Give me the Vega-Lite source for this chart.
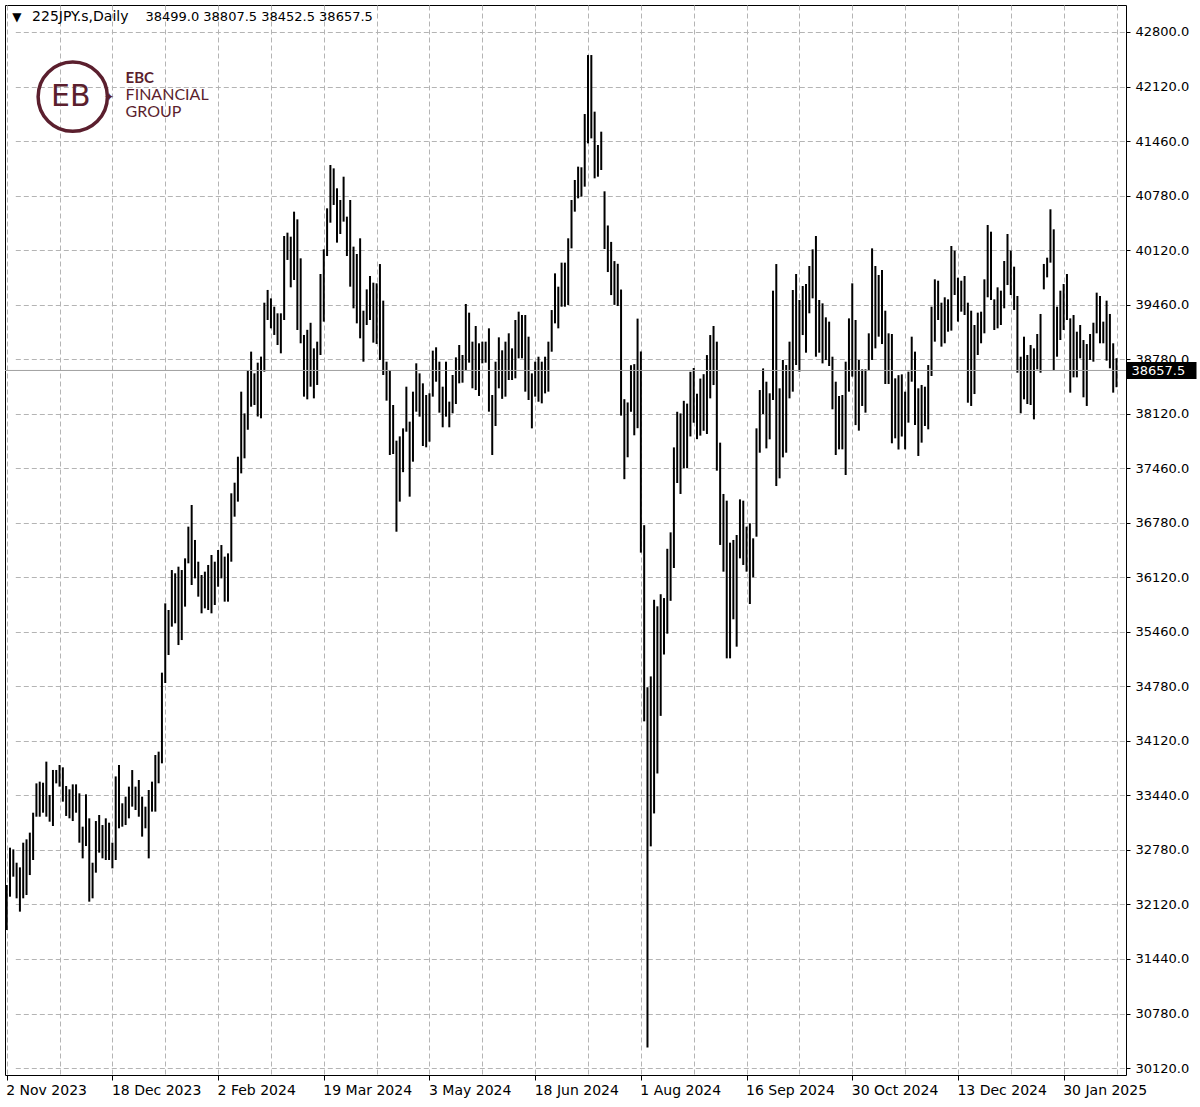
{
"$schema":"https://vega.github.io/schema/vega-lite/v6.json",
"width":1121,"height":1070,
"autosize":{"type":"none"},
"padding":{"left":5,"top":5,"right":74,"bottom":32},
"background":"white",
"config":{"view":{"stroke":"black","strokeWidth":1},"font":"DejaVu Sans","axis":{"labelFont":"DejaVu Sans"}},
"datasets":{
"last":[{"sym":"225JPY.s,Daily","o":38499.0,"h":38807.5,"l":38452.5,"c":38657.5}],
"bars":[
{"d":"2023-11-02","h":32360,"l":31809},{"d":"2023-11-03","h":32817,"l":32217},{"d":"2023-11-06","h":32796,"l":32462},{"d":"2023-11-07","h":32633,"l":32197},{"d":"2023-11-08","h":32576,"l":32034},{"d":"2023-11-09","h":32878,"l":32197},{"d":"2023-11-10","h":32919,"l":32238},{"d":"2023-11-13","h":33001,"l":32482},{"d":"2023-11-14","h":33245,"l":32666},{"d":"2023-11-15","h":33604,"l":33196},{"d":"2023-11-16","h":33625,"l":33196},{"d":"2023-11-17","h":33612,"l":33245},{"d":"2023-11-20","h":33870,"l":33196},{"d":"2023-11-21","h":33462,"l":33135},{"d":"2023-11-22","h":33768,"l":33082},{"d":"2023-11-23","h":33768,"l":33604},{"d":"2023-11-24","h":33829,"l":33564},{"d":"2023-11-27","h":33800,"l":33380},{"d":"2023-11-28","h":33572,"l":33205},{"d":"2023-11-29","h":33531,"l":33176},{"d":"2023-11-30","h":33592,"l":33143},{"d":"2023-12-01","h":33592,"l":33245},{"d":"2023-12-04","h":33482,"l":32878},{"d":"2023-12-05","h":33074,"l":32686},{"d":"2023-12-06","h":33470,"l":32837},{"d":"2023-12-07","h":33176,"l":32156},{"d":"2023-12-08","h":32633,"l":32197},{"d":"2023-12-11","h":33143,"l":32511},{"d":"2023-12-12","h":33217,"l":32756},{"d":"2023-12-13","h":33094,"l":32686},{"d":"2023-12-14","h":33176,"l":32666},{"d":"2023-12-15","h":33123,"l":32666},{"d":"2023-12-18","h":32878,"l":32564},{"d":"2023-12-19","h":33689,"l":32666},{"d":"2023-12-20","h":33829,"l":33054},{"d":"2023-12-21","h":33360,"l":33074},{"d":"2023-12-22","h":33441,"l":33094},{"d":"2023-12-26","h":33564,"l":33176},{"d":"2023-12-27","h":33767,"l":33319},{"d":"2023-12-28","h":33564,"l":33278},{"d":"2023-12-29","h":33645,"l":33196},
{"d":"2024-01-02","h":33441,"l":32952},{"d":"2024-01-03","h":33319,"l":33054},{"d":"2024-01-04","h":33523,"l":32686},{"d":"2024-01-05","h":33625,"l":33258},{"d":"2024-01-08","h":33951,"l":33258},{"d":"2024-01-09","h":33992,"l":33605},{"d":"2024-01-10","h":34959,"l":33849},{"d":"2024-01-11","h":35807,"l":34832},{"d":"2024-01-12","h":35726,"l":35175},{"d":"2024-01-15","h":36215,"l":35522},{"d":"2024-01-16","h":36175,"l":35563},{"d":"2024-01-17","h":36256,"l":35297},{"d":"2024-01-18","h":36215,"l":35358},{"d":"2024-01-19","h":36358,"l":35767},{"d":"2024-01-22","h":36746,"l":36297},{"d":"2024-01-23","h":37011,"l":36032},{"d":"2024-01-24","h":36583,"l":36113},{"d":"2024-01-25","h":36317,"l":35889},{"d":"2024-01-26","h":36154,"l":35685},{"d":"2024-01-29","h":36195,"l":35746},{"d":"2024-01-30","h":36277,"l":35726},{"d":"2024-01-31","h":36399,"l":35685},
{"d":"2024-02-01","h":36317,"l":35787},{"d":"2024-02-02","h":36460,"l":36011},{"d":"2024-02-05","h":36521,"l":36113},{"d":"2024-02-06","h":36379,"l":35828},{"d":"2024-02-07","h":36419,"l":35828},{"d":"2024-02-08","h":37154,"l":36317},{"d":"2024-02-09","h":37284,"l":36868},{"d":"2024-02-12","h":37602,"l":37052},{"d":"2024-02-13","h":38398,"l":37398},{"d":"2024-02-14","h":38132,"l":37582},{"d":"2024-02-15","h":38663,"l":37932},{"d":"2024-02-16","h":38888,"l":38214},{"d":"2024-02-19","h":38622,"l":38235},{"d":"2024-02-20","h":38753,"l":38094},{"d":"2024-02-21","h":38827,"l":38072},{"d":"2024-02-22","h":39487,"l":38643},{"d":"2024-02-23","h":39643,"l":39275},{"d":"2024-02-26","h":39540,"l":39173},{"d":"2024-02-27","h":39438,"l":39092},{"d":"2024-02-28","h":39357,"l":38969},{"d":"2024-02-29","h":39357,"l":38867},
{"d":"2024-03-01","h":40303,"l":39275},{"d":"2024-03-04","h":40344,"l":40010},{"d":"2024-03-05","h":40295,"l":39675},{"d":"2024-03-06","h":40601,"l":39765},{"d":"2024-03-07","h":40507,"l":39153},{"d":"2024-03-08","h":40030,"l":38990},{"d":"2024-03-11","h":39092,"l":38337},{"d":"2024-03-12","h":39155,"l":38304},{"d":"2024-03-13","h":39241,"l":38459},{"d":"2024-03-14","h":38928,"l":38316},{"d":"2024-03-15","h":39010,"l":38480},{"d":"2024-03-18","h":39838,"l":38847},{"d":"2024-03-19","h":40140,"l":39255},{"d":"2024-03-20","h":40642,"l":40058},{"d":"2024-03-21","h":41172,"l":40466},{"d":"2024-03-22","h":41131,"l":40683},{"d":"2024-03-25","h":40887,"l":40222},{"d":"2024-03-26","h":40744,"l":40328},{"d":"2024-03-27","h":41029,"l":40479},{"d":"2024-03-28","h":40540,"l":40058},
{"d":"2024-04-01","h":40744,"l":39683},{"d":"2024-04-02","h":40173,"l":39418},{"d":"2024-04-03","h":40083,"l":39234},{"d":"2024-04-04","h":40275,"l":39051},{"d":"2024-04-05","h":39389,"l":38765},{"d":"2024-04-08","h":39650,"l":39214},{"d":"2024-04-09","h":39814,"l":39275},{"d":"2024-04-10","h":39732,"l":38998},{"d":"2024-04-11","h":39724,"l":38981},{"d":"2024-04-12","h":39960,"l":38786},{"d":"2024-04-15","h":39512,"l":38602},{"d":"2024-04-16","h":38765,"l":38288},{"d":"2024-04-17","h":38663,"l":37623},{"d":"2024-04-18","h":38235,"l":37635},{"d":"2024-04-19","h":37798,"l":36684},{"d":"2024-04-22","h":37851,"l":37052},{"d":"2024-04-23","h":37949,"l":37413},{"d":"2024-04-24","h":38459,"l":37908},{"d":"2024-04-25","h":38031,"l":37113},{"d":"2024-04-26","h":38398,"l":37541},{"d":"2024-04-29","h":38745,"l":38153},{"d":"2024-04-30","h":38622,"l":38092},
{"d":"2024-05-01","h":38500,"l":37733},{"d":"2024-05-02","h":38357,"l":37717},{"d":"2024-05-03","h":38378,"l":37786},{"d":"2024-05-06","h":38900,"l":38337},{"d":"2024-05-07","h":38941,"l":38520},{"d":"2024-05-08","h":38765,"l":38141},{"d":"2024-05-09","h":38459,"l":37962},{"d":"2024-05-10","h":38765,"l":38092},{"d":"2024-05-13","h":38276,"l":37962},{"d":"2024-05-14","h":38602,"l":38133},{"d":"2024-05-15","h":38818,"l":38247},{"d":"2024-05-16","h":38969,"l":38500},{"d":"2024-05-17","h":38847,"l":38508},{"d":"2024-05-20","h":39471,"l":38663},{"d":"2024-05-21","h":39365,"l":38753},{"d":"2024-05-22","h":39010,"l":38439},{"d":"2024-05-23","h":39202,"l":38418},{"d":"2024-05-24","h":38990,"l":38345},{"d":"2024-05-27","h":39010,"l":38745},{"d":"2024-05-28","h":39010,"l":38753},{"d":"2024-05-29","h":39173,"l":38153},{"d":"2024-05-30","h":38357,"l":37623},{"d":"2024-05-31","h":38765,"l":37978},
{"d":"2024-06-03","h":39063,"l":38439},{"d":"2024-06-04","h":38904,"l":38310},{"d":"2024-06-05","h":39010,"l":38337},{"d":"2024-06-06","h":39112,"l":38541},{"d":"2024-06-07","h":38928,"l":38541},{"d":"2024-06-10","h":39275,"l":38561},{"d":"2024-06-11","h":39377,"l":38806},{"d":"2024-06-12","h":39336,"l":38806},{"d":"2024-06-13","h":39336,"l":38398},{"d":"2024-06-14","h":39071,"l":38296},{"d":"2024-06-17","h":38622,"l":37949},{"d":"2024-06-18","h":38765,"l":38337},{"d":"2024-06-19","h":38826,"l":38275},{"d":"2024-06-20","h":38765,"l":38255},{"d":"2024-06-21","h":38826,"l":38377},{"d":"2024-06-24","h":39010,"l":38398},{"d":"2024-06-25","h":39397,"l":38887},{"d":"2024-06-26","h":39846,"l":39234},{"d":"2024-06-27","h":39683,"l":39173},{"d":"2024-06-28","h":39977,"l":39438},
{"d":"2024-07-01","h":39977,"l":39438},{"d":"2024-07-02","h":40275,"l":39459},{"d":"2024-07-03","h":40744,"l":40152},{"d":"2024-07-04","h":40989,"l":40601},{"d":"2024-07-05","h":41152,"l":40764},{"d":"2024-07-08","h":41144,"l":40785},{"d":"2024-07-09","h":41796,"l":40907},{"d":"2024-07-10","h":42518,"l":41437},{"d":"2024-07-11","h":42518,"l":41498},{"d":"2024-07-12","h":41825,"l":41009},{"d":"2024-07-15","h":41417,"l":41029},{"d":"2024-07-16","h":41580,"l":41111},{"d":"2024-07-17","h":40850,"l":40144},{"d":"2024-07-18","h":40432,"l":39862},{"d":"2024-07-19","h":40231,"l":39580},{"d":"2024-07-22","h":39996,"l":39460},{"d":"2024-07-23","h":39963,"l":39446},{"d":"2024-07-24","h":39648,"l":38105},{"d":"2024-07-25","h":38306,"l":37327},{"d":"2024-07-26","h":38266,"l":37595},{"d":"2024-07-29","h":38722,"l":38152},{"d":"2024-07-30","h":38735,"l":37864},{"d":"2024-07-31","h":39292,"l":37951},
{"d":"2024-08-01","h":38890,"l":36428},{"d":"2024-08-02","h":36764,"l":34363},{"d":"2024-08-05","h":34779,"l":30372},{"d":"2024-08-06","h":34913,"l":32833},{"d":"2024-08-07","h":35851,"l":33236},{"d":"2024-08-08","h":35771,"l":33725},{"d":"2024-08-09","h":35919,"l":34430},{"d":"2024-08-12","h":35872,"l":35181},{"d":"2024-08-13","h":36475,"l":35436},{"d":"2024-08-14","h":36676,"l":35838},{"d":"2024-08-15","h":37716,"l":36240},{"d":"2024-08-16","h":38152,"l":37280},{"d":"2024-08-19","h":38132,"l":37146},{"d":"2024-08-20","h":38286,"l":37461},{"d":"2024-08-21","h":38252,"l":37461},{"d":"2024-08-22","h":38641,"l":37850},{"d":"2024-08-23","h":38688,"l":38018},{"d":"2024-08-26","h":38373,"l":37817},{"d":"2024-08-27","h":38558,"l":37860},{"d":"2024-08-28","h":38612,"l":37919},{"d":"2024-08-29","h":38846,"l":37880},{"d":"2024-08-30","h":39091,"l":38316},
{"d":"2024-09-02","h":39202,"l":38479},{"d":"2024-09-03","h":39010,"l":37431},{"d":"2024-09-04","h":37774,"l":36522},{"d":"2024-09-05","h":37146,"l":36195},{"d":"2024-09-06","h":37064,"l":35134},{"d":"2024-09-09","h":36550,"l":35134},{"d":"2024-09-10","h":36583,"l":35612},{"d":"2024-09-11","h":36644,"l":35277},{"d":"2024-09-12","h":37080,"l":36358},{"d":"2024-09-13","h":37064,"l":36277},{"d":"2024-09-16","h":36746,"l":36195},{"d":"2024-09-17","h":36787,"l":35799},{"d":"2024-09-18","h":36603,"l":36126},{"d":"2024-09-19","h":37949,"l":36623},{"d":"2024-09-20","h":38418,"l":37651},{"d":"2024-09-23","h":38683,"l":38125},{"d":"2024-09-24","h":38520,"l":37704},{"d":"2024-09-25","h":38378,"l":37815},{"d":"2024-09-26","h":39634,"l":38296},{"d":"2024-09-27","h":39960,"l":37243},{"d":"2024-09-30","h":38439,"l":37337},
{"d":"2024-10-01","h":38786,"l":37594},{"d":"2024-10-02","h":38724,"l":37651},{"d":"2024-10-03","h":39010,"l":38316},{"d":"2024-10-04","h":39642,"l":38398},{"d":"2024-10-07","h":39838,"l":38724},{"d":"2024-10-08","h":39520,"l":38643},{"d":"2024-10-09","h":39691,"l":39091},{"d":"2024-10-10","h":39716,"l":38875},{"d":"2024-10-11","h":39936,"l":39357},{"d":"2024-10-14","h":40140,"l":39540},{"d":"2024-10-15","h":40303,"l":38826},{"d":"2024-10-16","h":39520,"l":38875},{"d":"2024-10-17","h":39479,"l":38744},{"d":"2024-10-18","h":39308,"l":38785},{"d":"2024-10-21","h":39255,"l":38712},{"d":"2024-10-22","h":38826,"l":38182},{"d":"2024-10-23","h":38520,"l":37623},{"d":"2024-10-24","h":38345,"l":37692},{"d":"2024-10-25","h":38357,"l":37692},{"d":"2024-10-28","h":38765,"l":37378},{"d":"2024-10-29","h":39295,"l":38398},{"d":"2024-10-30","h":39724,"l":38582},{"d":"2024-10-31","h":39275,"l":37989},
{"d":"2024-11-01","h":38786,"l":37921},{"d":"2024-11-04","h":38671,"l":38223},{"d":"2024-11-05","h":38671,"l":38141},{"d":"2024-11-06","h":39112,"l":38663},{"d":"2024-11-07","h":40152,"l":38786},{"d":"2024-11-08","h":39936,"l":38928},{"d":"2024-11-11","h":39826,"l":39071},{"d":"2024-11-12","h":39887,"l":38981},{"d":"2024-11-13","h":39389,"l":38492},{"d":"2024-11-14","h":39112,"l":38492},{"d":"2024-11-15","h":39104,"l":37766},{"d":"2024-11-18","h":38561,"l":37827},{"d":"2024-11-19","h":38600,"l":37690},{"d":"2024-11-20","h":38610,"l":37849},{"d":"2024-11-21","h":38398,"l":37692},{"d":"2024-11-22","h":38643,"l":38019},{"d":"2024-11-25","h":39071,"l":38520},{"d":"2024-11-26","h":38888,"l":37990},{"d":"2024-11-27","h":38439,"l":37611},{"d":"2024-11-28","h":38480,"l":37774},{"d":"2024-11-29","h":38459,"l":37978},
{"d":"2024-12-02","h":38724,"l":37937},{"d":"2024-12-03","h":39438,"l":38590},{"d":"2024-12-04","h":39773,"l":39010},{"d":"2024-12-05","h":39756,"l":39275},{"d":"2024-12-06","h":39487,"l":38949},{"d":"2024-12-09","h":39553,"l":38990},{"d":"2024-12-10","h":39528,"l":39132},{"d":"2024-12-11","h":40181,"l":39145},{"d":"2024-12-12","h":40124,"l":39581},{"d":"2024-12-13","h":39793,"l":39255},{"d":"2024-12-16","h":39756,"l":39377},{"d":"2024-12-17","h":39814,"l":39336},{"d":"2024-12-18","h":39487,"l":38263},{"d":"2024-12-19","h":39389,"l":38223},{"d":"2024-12-20","h":39214,"l":38369},{"d":"2024-12-23","h":39365,"l":38847},{"d":"2024-12-24","h":39377,"l":38990},{"d":"2024-12-26","h":39773,"l":39112},{"d":"2024-12-27","h":40438,"l":39553},{"d":"2024-12-30","h":40356,"l":39520},{"d":"2024-12-31","h":39528,"l":39153},
{"d":"2025-01-02","h":39675,"l":39173},{"d":"2025-01-03","h":39634,"l":39214},{"d":"2025-01-06","h":39997,"l":39418},{"d":"2025-01-07","h":40328,"l":39703},{"d":"2025-01-08","h":40124,"l":39581},{"d":"2025-01-09","h":39928,"l":39398},{"d":"2025-01-10","h":39569,"l":38630},{"d":"2025-01-13","h":38826,"l":38133},{"d":"2025-01-14","h":39071,"l":38304},{"d":"2025-01-15","h":38847,"l":38247},{"d":"2025-01-16","h":38969,"l":38235},{"d":"2025-01-17","h":38928,"l":38059},{"d":"2025-01-20","h":39104,"l":38671},{"d":"2025-01-21","h":39349,"l":38630},{"d":"2025-01-22","h":39961,"l":39650},{"d":"2025-01-23","h":40038,"l":39797},{"d":"2025-01-24","h":40630,"l":39977},{"d":"2025-01-27","h":40385,"l":38655},{"d":"2025-01-28","h":39438,"l":38826},{"d":"2025-01-29","h":39634,"l":39030},{"d":"2025-01-30","h":39716,"l":39153},{"d":"2025-01-31","h":39838,"l":39275},
{"d":"2025-02-03","h":39295,"l":38386},{"d":"2025-02-04","h":39336,"l":38573},{"d":"2025-02-05","h":39132,"l":38573},{"d":"2025-02-06","h":39214,"l":38806},{"d":"2025-02-07","h":39030,"l":38329},{"d":"2025-02-10","h":38981,"l":38223},{"d":"2025-02-11","h":39104,"l":38786},{"d":"2025-02-12","h":39242,"l":38765},{"d":"2025-02-13","h":39610,"l":39112},{"d":"2025-02-14","h":39569,"l":38990},{"d":"2025-02-17","h":39255,"l":38990},{"d":"2025-02-18","h":39512,"l":38777},{"d":"2025-02-19","h":39349,"l":38684},{"d":"2025-02-20","h":38990,"l":38386},{"d":"2025-02-21","h":38807.5,"l":38452.5}
]},
"layer":[
{"layer":[
{"data":{"name":"bars"},
"mark":{"type":"rule","color":"black","strokeWidth":2},
"encoding":{
"x":{"field":"d","type":"ordinal","sort":null,"scale":{"type":"point","range":[1.7,1111.5],"padding":0},
"axis":{"title":null,"domain":false,"labelAngle":0,"labelAlign":"left","labelBaseline":"top","labelPadding":3,"labelFontSize":14,"labelColor":"black","labelOverlap":false,"labelBound":false,"labelOffset":-1,
"values":["2023-11-02","2023-11-24","2023-12-18","2024-01-11","2024-02-02","2024-02-26","2024-03-19","2024-04-11","2024-05-03","2024-05-27","2024-06-18","2024-07-10","2024-08-01","2024-08-23","2024-09-16","2024-10-08","2024-10-30","2024-11-21","2024-12-13","2025-01-08","2025-01-30","2025-02-21"],
"labelExpr":"indexof(['2023-11-02','2023-12-18','2024-02-02','2024-03-19','2024-05-03','2024-06-18','2024-08-01','2024-09-16','2024-10-30','2024-12-13','2025-01-30'], datum.value) >= 0 ? utcFormat(toDate(datum.value), '%-d %b %Y') : ''",
"tickSize":5,"tickColor":"black",
"tickOpacity":{"condition":{"test":"indexof(['2023-11-02','2023-12-18','2024-02-02','2024-03-19','2024-05-03','2024-06-18','2024-08-01','2024-09-16','2024-10-30','2024-12-13','2025-01-30'], datum.value) >= 0","value":1},"value":0},
"grid":true,"gridColor":"#b4b4b4","gridDash":[5,3],"gridWidth":1}},
"y":{"field":"l","type":"quantitative","scale":{"domain":[30034.7,43130.4],"nice":false,"zero":false},
"axis":{"orient":"right","title":null,"domain":false,"grid":true,"gridColor":"#b4b4b4","gridDash":[5,3],"tickSize":4,"tickColor":"black","labelPadding":5,"labelFontSize":13,"labelColor":"black","labelAlign":"left","labelBaseline":"middle","labelOverlap":false,"labelBound":false,
"values":[30120,30787.37,31454.74,32122.11,32789.47,33456.84,34124.21,34791.58,35458.95,36126.32,36793.68,37461.05,38128.42,38795.79,39463.16,40130.53,40797.89,41465.26,42132.63,42800],
"labelExpr":"['30120.0','30780.0','31440.0','32120.0','32780.0','33440.0','34120.0','34780.0','35460.0','36120.0','36780.0','37460.0','38120.0','38780.0','39460.0','40120.0','40780.0','41460.0','42120.0','42800.0'][round((datum.value-30120)/667.3684)]"}},
"y2":{"field":"h"}}},
{"data":{"values":[{}]},"mark":{"type":"text","text":"▼","fontSize":12,"align":"left","baseline":"middle","color":"black","dx":-1},
"encoding":{"x":{"datum":"2023-11-06","type":"ordinal"},"y":{"datum":42983,"type":"quantitative"}}},
{"data":{"name":"last"},"mark":{"type":"text","fontSize":14,"align":"left","baseline":"middle","color":"black","dx":-1},
"encoding":{"x":{"datum":"2023-11-14","type":"ordinal"},"y":{"datum":42983,"type":"quantitative"},"text":{"field":"sym"}}},
{"data":{"values":[{}]},"mark":{"type":"text","text":"38499.0 38807.5 38452.5 38657.5","fontSize":13,"align":"left","baseline":"middle","color":"black"},
"encoding":{"x":{"datum":"2024-01-03","type":"ordinal"},"y":{"datum":42983,"type":"quantitative"}}},
{"data":{"values":[{}]},"mark":{"type":"point","shape":"circle","filled":false,"size":4800,"stroke":"#5b1f2e","strokeWidth":3.5,"opacity":1},
"encoding":{"x":{"datum":"2023-11-30","type":"ordinal"},"y":{"datum":42008,"type":"quantitative"}}},
{"data":{"values":[{}]},"mark":{"type":"text","text":"EB","fontSize":30,"font":"DejaVu Sans","align":"center","baseline":"middle","color":"#5b1f2e","dx":-2},
"encoding":{"x":{"datum":"2023-11-30","type":"ordinal"},"y":{"datum":42008,"type":"quantitative"}}},
{"data":{"values":[{}]},"mark":{"type":"text","text":"✦","fontSize":12,"align":"center","baseline":"middle","color":"#5b1f2e"},
"encoding":{"x":{"datum":"2023-12-15","type":"ordinal"},"y":{"datum":42008,"type":"quantitative"}}},
{"data":{"values":[{}]},"mark":{"type":"text","text":"EBC","fontSize":15,"fontWeight":"bold","font":"Lato","align":"left","baseline":"middle","color":"#5b1f2e"},
"encoding":{"x":{"datum":"2023-12-22","type":"ordinal"},"y":{"datum":42237,"type":"quantitative"}}},
{"data":{"values":[{}]},"mark":{"type":"text","text":"FINANCIAL","fontSize":16,"font":"Lato","align":"left","baseline":"middle","color":"#5b1f2e"},
"encoding":{"x":{"datum":"2023-12-22","type":"ordinal"},"y":{"datum":42029,"type":"quantitative"}}},
{"data":{"values":[{}]},"mark":{"type":"text","text":"GROUP","fontSize":16,"font":"Lato","align":"left","baseline":"middle","color":"#5b1f2e"},
"encoding":{"x":{"datum":"2023-12-22","type":"ordinal"},"y":{"datum":41821,"type":"quantitative"}}}
]},
{"data":{"name":"last"},
"mark":{"type":"rule","color":"#a0a0a0","strokeWidth":1},
"encoding":{"y":{"field":"c","type":"quantitative","scale":{"domain":[30034.7,43130.4],"nice":false,"zero":false},
"axis":{"orient":"right","title":null,"domain":false,"grid":false,"values":[38657.5],"format":".1f","tickSize":70,"tickWidth":17,"tickColor":"black","labelColor":"white","labelPadding":-65,"labelFontSize":13,"labelAlign":"left","labelBaseline":"middle","zindex":2}}}}
],
"resolve":{"scale":{"y":"independent"},"axis":{"y":"independent"}}
}
